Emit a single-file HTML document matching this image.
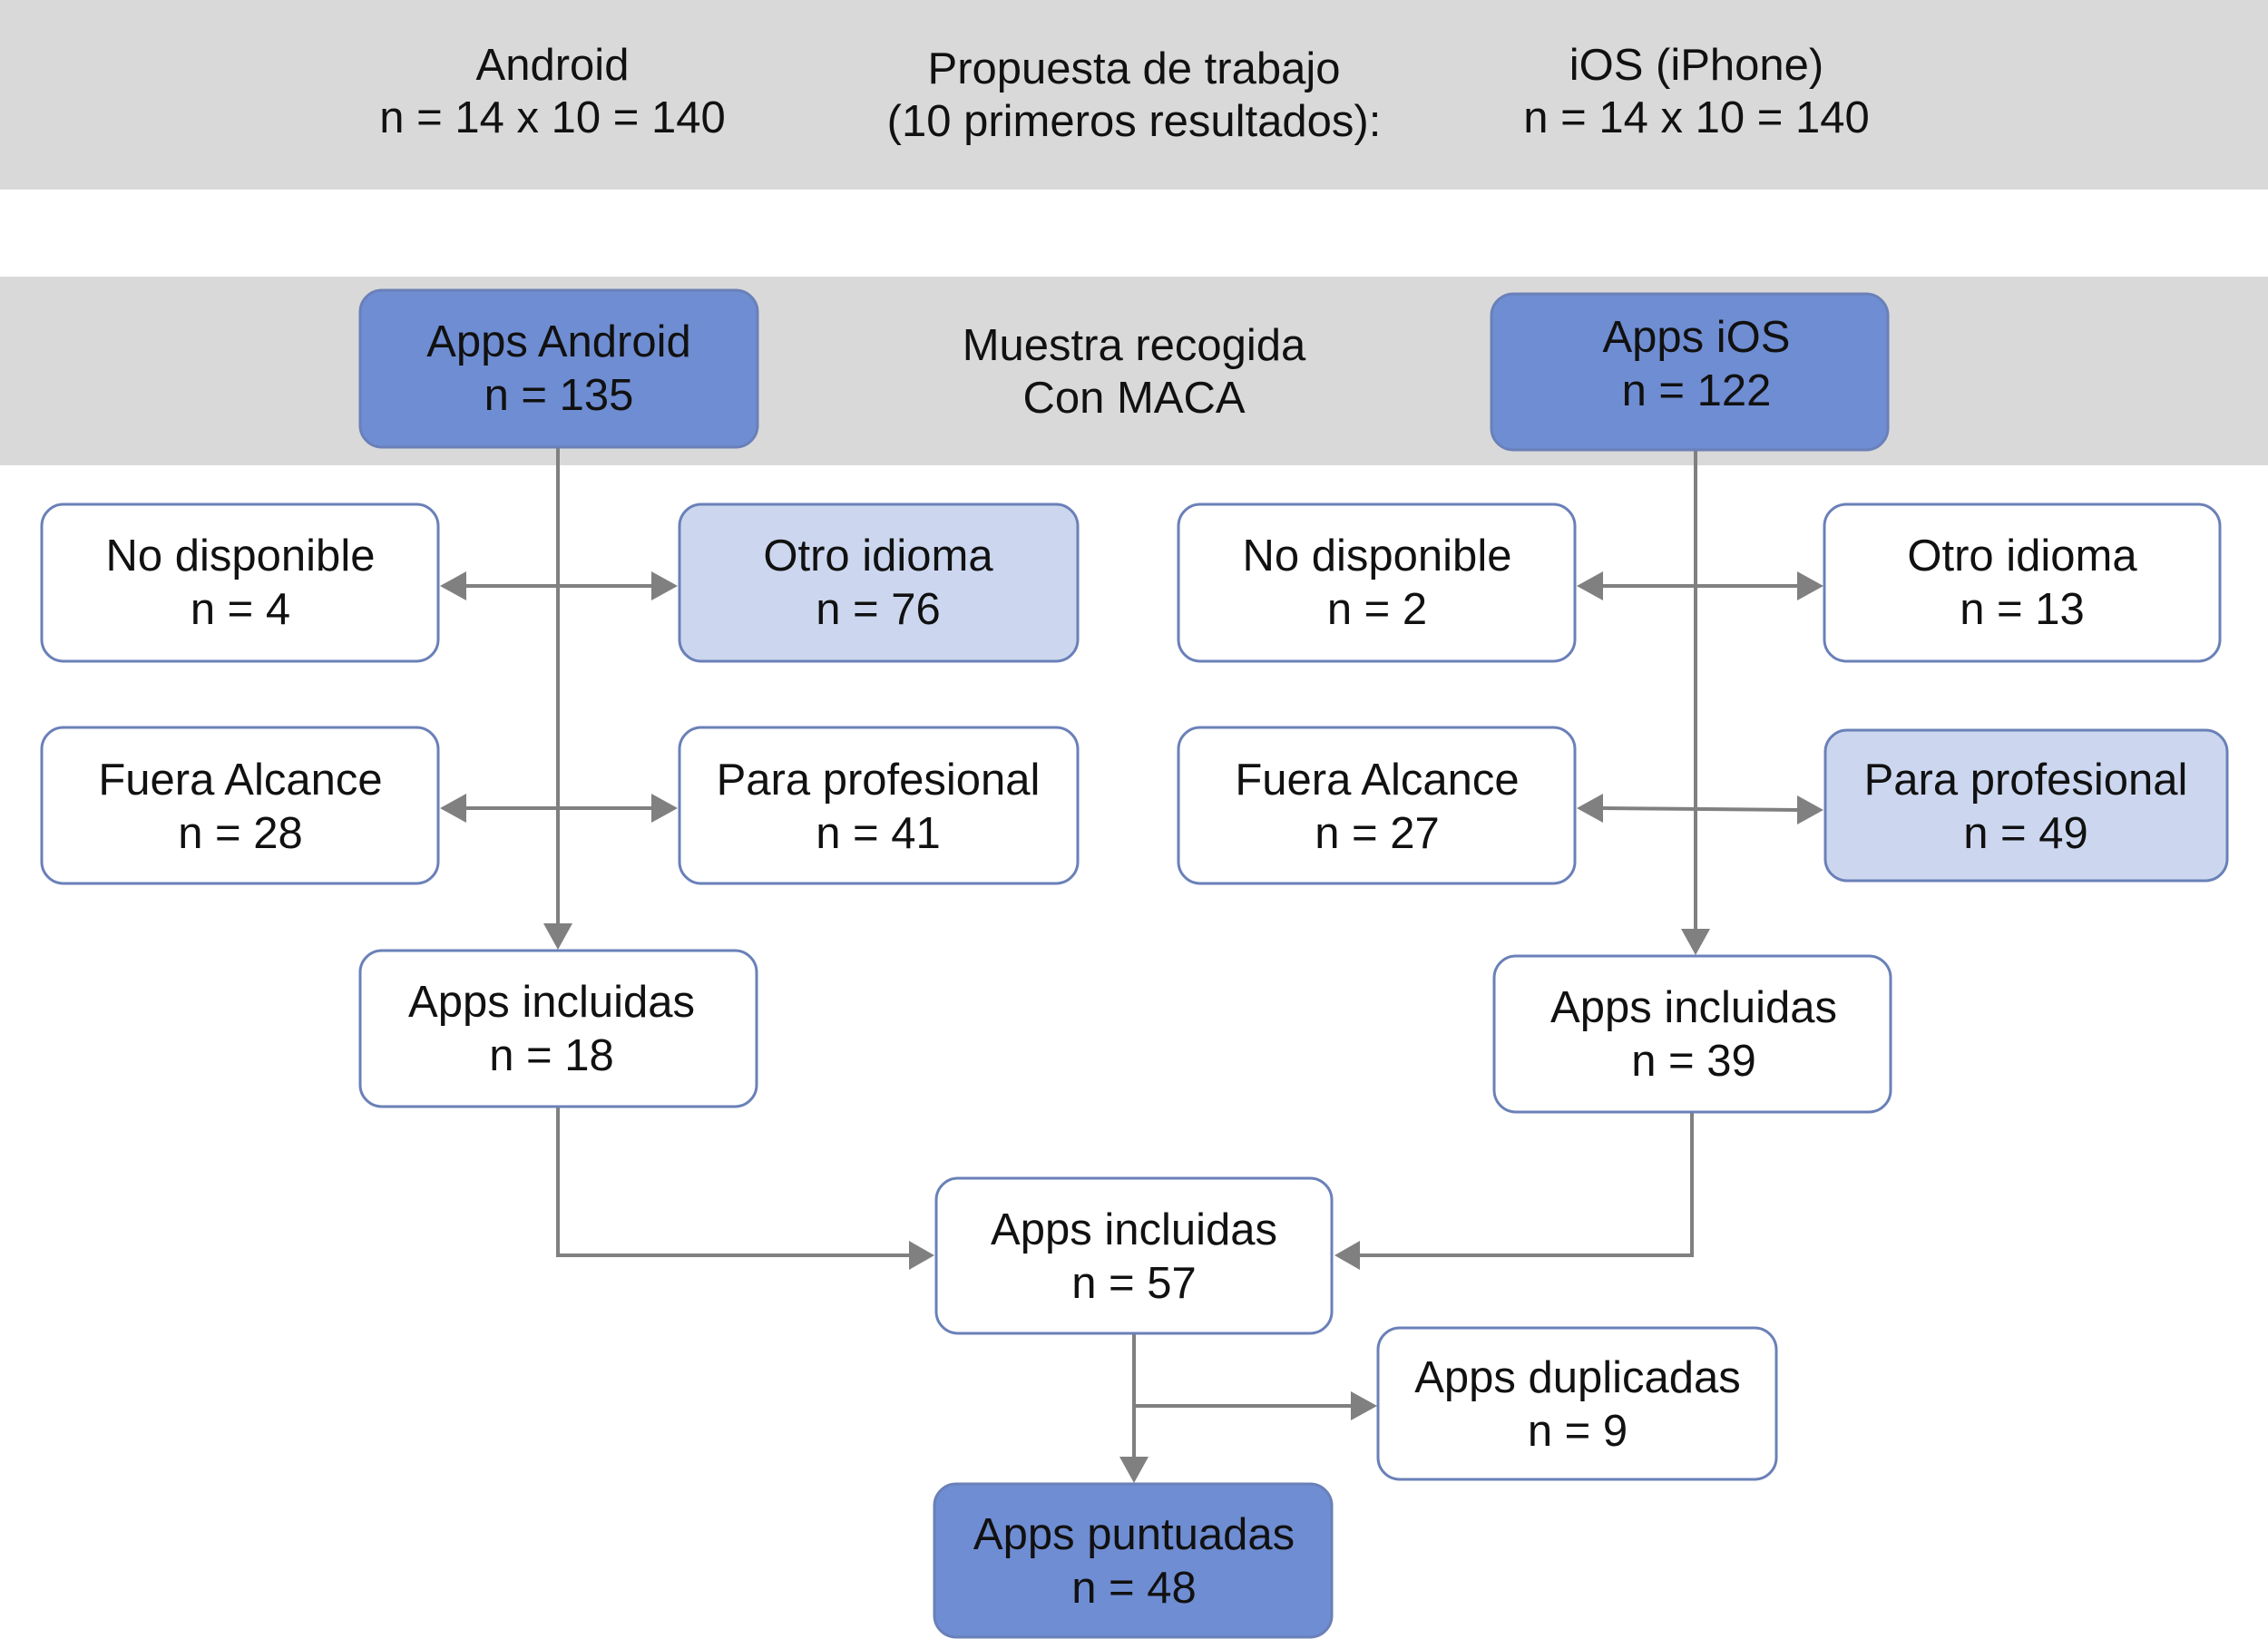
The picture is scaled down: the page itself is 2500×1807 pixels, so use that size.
<!DOCTYPE html>
<html><head><meta charset="utf-8"><style>
html,body{margin:0;padding:0;background:#fff;}
svg{display:block;}
text{font-family:"Liberation Sans",sans-serif;font-size:49px;fill:#111;text-anchor:middle;}
</style></head><body>
<svg width="2500" height="1807" viewBox="0 0 2500 1807" xmlns="http://www.w3.org/2000/svg">
<rect x="0" y="0" width="2500" height="209" fill="#d9d9d9"/>
<rect x="0" y="305" width="2500" height="208" fill="#d9d9d9"/>
<text x="609" y="88">Android</text><text x="609" y="146">n = 14 x 10 = 140</text>
<text x="1250" y="92">Propuesta de trabajo</text><text x="1250" y="150">(10 primeros resultados):</text>
<text x="1870" y="88">iOS (iPhone)</text><text x="1870" y="146">n = 14 x 10 = 140</text>
<text x="1250" y="397">Muestra recogida</text><text x="1250" y="455">Con MACA</text>

<g stroke="#808080" stroke-width="4" fill="none">
<line x1="615" y1="493" x2="615" y2="1020"/>
<line x1="1869" y1="496" x2="1869" y2="1026"/>
<line x1="512" y1="646" x2="720" y2="646"/>
<line x1="512" y1="891" x2="720" y2="891"/>
<line x1="1765" y1="646" x2="1983" y2="646"/>
<line x1="1765" y1="891" x2="1983" y2="893"/>
<polyline points="615,1220 615,1384 1004,1384"/>
<polyline points="1865,1226 1865,1384 1497,1384"/>
<line x1="1250" y1="1470" x2="1250" y2="1608"/>
<line x1="1250" y1="1550" x2="1491" y2="1550"/>
</g>
<g fill="#808080">
<polygon points="599,1018 631,1018 615,1047"/>
<polygon points="1853,1024 1885,1024 1869,1053"/>
<polygon points="485,646 514,630 514,662"/>
<polygon points="747,646 718,630 718,662"/>
<polygon points="485,891 514,875 514,907"/>
<polygon points="747,891 718,875 718,907"/>
<polygon points="1738,646 1767,630 1767,662"/>
<polygon points="2010,646 1981,630 1981,662"/>
<polygon points="1738,891 1767,875 1767,907"/>
<polygon points="2010,893 1981,877 1981,909"/>
<polygon points="1030,1384 1002,1368 1002,1400"/>
<polygon points="1471,1384 1499,1368 1499,1400"/>
<polygon points="1518,1550 1489,1534 1489,1566"/>
<polygon points="1234,1606 1266,1606 1250,1635"/>
</g>

<g stroke="#6a80b8" stroke-width="3">
<rect x="397" y="320" width="438" height="173" rx="24" fill="#6f8dd2"/>
<rect x="1644" y="324" width="437" height="172" rx="24" fill="#6f8dd2"/>
<rect x="46" y="556" width="437" height="173" rx="24" fill="#fff"/>
<rect x="749" y="556" width="439" height="173" rx="24" fill="#ccd7ef"/>
<rect x="46" y="802" width="437" height="172" rx="24" fill="#fff"/>
<rect x="749" y="802" width="439" height="172" rx="24" fill="#fff"/>
<rect x="1299" y="556" width="437" height="173" rx="24" fill="#fff"/>
<rect x="2011" y="556" width="436" height="173" rx="24" fill="#fff"/>
<rect x="1299" y="802" width="437" height="172" rx="24" fill="#fff"/>
<rect x="2012" y="805" width="443" height="166" rx="24" fill="#ccd7ef"/>
<rect x="397" y="1048" width="437" height="172" rx="24" fill="#fff"/>
<rect x="1647" y="1054" width="437" height="172" rx="24" fill="#fff"/>
<rect x="1032" y="1299" width="436" height="171" rx="24" fill="#fff"/>
<rect x="1519" y="1464" width="439" height="167" rx="24" fill="#fff"/>
<rect x="1030" y="1636" width="438" height="169" rx="24" fill="#6f8dd2"/>
</g>

<text x="616" y="393">Apps Android</text><text x="616" y="452">n = 135</text>
<text x="1870" y="388">Apps iOS</text><text x="1870" y="447">n = 122</text>
<text x="265" y="629">No disponible</text><text x="265" y="688">n = 4</text>
<text x="968" y="629">Otro idioma</text><text x="968" y="688">n = 76</text>
<text x="265" y="876">Fuera Alcance</text><text x="265" y="935">n = 28</text>
<text x="968" y="876">Para profesional</text><text x="968" y="935">n = 41</text>
<text x="1518" y="629">No disponible</text><text x="1518" y="688">n = 2</text>
<text x="2229" y="629">Otro idioma</text><text x="2229" y="688">n = 13</text>
<text x="1518" y="876">Fuera Alcance</text><text x="1518" y="935">n = 27</text>
<text x="2233" y="876">Para profesional</text><text x="2233" y="935">n = 49</text>
<text x="608" y="1121">Apps incluidas</text><text x="608" y="1180">n = 18</text>
<text x="1867" y="1127">Apps incluidas</text><text x="1867" y="1186">n = 39</text>
<text x="1250" y="1372">Apps incluidas</text><text x="1250" y="1431">n = 57</text>
<text x="1739" y="1535">Apps duplicadas</text><text x="1739" y="1594">n = 9</text>
<text x="1250" y="1708">Apps puntuadas</text><text x="1250" y="1767">n = 48</text>
</svg>
</body></html>
